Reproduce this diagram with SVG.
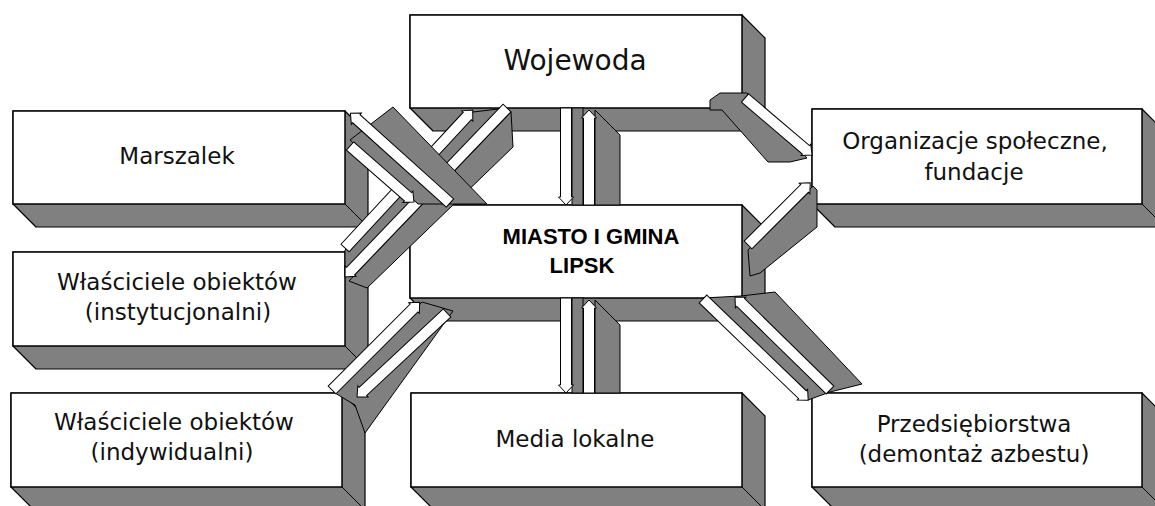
<svg xmlns="http://www.w3.org/2000/svg" width="1155" height="506" viewBox="0 0 1155 506">
<style>
.ext{fill:#808080;stroke:#000;stroke-width:1.2;stroke-linejoin:round}
.face{fill:#fff;stroke:#000;stroke-width:1.5}
.edge{stroke:#000;stroke-width:1;fill:none}
.lbl{font-family:"DejaVu Sans",sans-serif;font-size:23px;fill:#111;text-anchor:middle}
.big{font-size:28px}
.bold{font-family:"Liberation Sans",Arial,sans-serif;font-weight:bold;font-size:22px;fill:#000;text-anchor:middle}
.g{fill:#808080;stroke:#000;stroke-width:1}
.w{fill:#fff;stroke:#000;stroke-width:1}
</style>
<rect width="1155" height="506" fill="#fff"/>
<g id="node-wojewoda">
<polygon class="ext" points="410,15 742,15 765,38 765,131 433,131 410,108"/>
<rect class="face" x="410" y="15" width="332" height="93"/>
<line class="edge" x1="742" y1="108" x2="765" y2="131"/>
<text class="lbl big" x="575" y="70">Wojewoda</text>
</g>
<g id="node-marszalek">
<polygon class="ext" points="13,111 345,111 368,134 368,227 36,227 13,204"/>
<rect class="face" x="13" y="111" width="332" height="93"/>
<line class="edge" x1="345" y1="204" x2="368" y2="227"/>
<text class="lbl" x="177" y="164">Marszalek</text>
</g>
<g id="node-organizacje">
<polygon class="ext" points="812,109 1142,109 1165,132 1165,227 835,227 812,204"/>
<rect class="face" x="812" y="109" width="330" height="95"/>
<line class="edge" x1="1142" y1="204" x2="1165" y2="227"/>
<text class="lbl" x="975" y="149">Organizacje społeczne,</text>
<text class="lbl" x="974" y="180">fundacje</text>
</g>
<g id="node-miasto">
<polygon class="ext" points="410,205 742,205 765,228 765,321 433,321 410,298"/>
<rect class="face" x="410" y="205" width="332" height="93"/>
<line class="edge" x1="742" y1="298" x2="765" y2="321"/>
<text class="bold" x="591" y="244">MIASTO I GMINA</text>
<text class="bold" x="582" y="273">LIPSK</text>
</g>
<g id="node-instytucjonalni">
<polygon class="ext" points="13,252 345,252 368,275 368,369 36,369 13,346"/>
<rect class="face" x="13" y="252" width="332" height="94"/>
<line class="edge" x1="345" y1="346" x2="368" y2="369"/>
<text class="lbl" x="177" y="290">Właściciele obiektów</text>
<text class="lbl" x="178" y="320">(instytucjonalni)</text>
</g>
<g id="node-indywidualni">
<polygon class="ext" points="11,393 342,393 365,416 365,510 34,510 11,487"/>
<rect class="face" x="11" y="393" width="331" height="94"/>
<line class="edge" x1="342" y1="487" x2="365" y2="510"/>
<text class="lbl" x="174" y="430">Właściciele obiektów</text>
<text class="lbl" x="172" y="460">(indywidualni)</text>
</g>
<g id="node-media">
<polygon class="ext" points="411,393 742,393 765,416 765,510 434,510 411,487"/>
<rect class="face" x="411" y="393" width="331" height="94"/>
<line class="edge" x1="742" y1="487" x2="765" y2="510"/>
<text class="lbl" x="575" y="447">Media lokalne</text>
</g>
<g id="node-przedsiebiorstwa">
<polygon class="ext" points="812,393 1142,393 1165,416 1165,510 835,510 812,487"/>
<rect class="face" x="812" y="393" width="330" height="94"/>
<line class="edge" x1="1142" y1="487" x2="1165" y2="510"/>
<text class="lbl" x="974" y="432">Przedsiębiorstwa</text>
<text class="lbl" x="974" y="462">(demontaż azbestu)</text>
</g>
<g id="connectors">
<rect class="g" x="572" y="108" width="11" height="97"/>
<polygon class="g" points="595,110 620,135 620,205 595,205"/>
<path class="w" transform="translate(566,108) rotate(90)" d="M0,-5.5 H89 V-7.5 L97,0 L89,7.5 V5.5 H0 Z"/>
<path class="w" transform="translate(589,205) rotate(-90)" d="M0,-5.5 H87 V-7.5 L95,0 L87,7.5 V5.5 H0 Z"/>
<rect class="g" x="572" y="298" width="11" height="95"/>
<polygon class="g" points="595,300 620,325 620,393 595,393"/>
<path class="w" transform="translate(566,298) rotate(90)" d="M0,-5.5 H87 V-7.5 L95,0 L87,7.5 V5.5 H0 Z"/>
<path class="w" transform="translate(589,393) rotate(-90)" d="M0,-5.5 H85 V-7.5 L93,0 L85,7.5 V5.5 H0 Z"/>
<polygon class="g" points="345,250 473,112 507,108 345,277"/>
<polygon class="g" points="349,281 511,112 513,147 367,288"/>
<path class="w" transform="translate(345,248) rotate(-47.2)" d="M0,-5.5 H180 V-7.5 L188,0 L180,7.5 V5.5 H0 Z"/>
<path class="w" transform="translate(507,108) rotate(133.8)" d="M0,-5.5 H226 V-7.5 L234,0 L226,7.5 V5.5 H0 Z"/>
<polygon class="g" points="350,140 393,107 487,204 418,204"/>
<path class="w" transform="translate(450,203) rotate(222)" d="M0,-5.5 H126 V-7.5 L134,0 L126,7.5 V5.5 H0 Z"/>
<path class="w" transform="translate(350,146) rotate(41.2)" d="M0,-5.5 H77 V-7.5 L85,0 L77,7.5 V5.5 H0 Z"/>
<polygon class="g" points="335,393 422,302 453,311 365,433 355,405"/>
<path class="w" transform="translate(332,390) rotate(-45)" d="M0,-5.5 H116 V-7.5 L124,0 L116,7.5 V5.5 H0 Z"/>
<path class="w" transform="translate(447,313) rotate(137)" d="M0,-5.5 H115 V-7.5 L123,0 L115,7.5 V5.5 H0 Z"/>
<polygon class="g" points="703,298 741,296 775,292 862,384 830,392 808,400"/>
<path class="w" transform="translate(703,299) rotate(43.9)" d="M0,-5.5 H138 V-7.5 L146,0 L138,7.5 V5.5 H0 Z"/>
<path class="w" transform="translate(830,390) rotate(224.4)" d="M0,-5.5 H125 V-7.5 L133,0 L125,7.5 V5.5 H0 Z"/>
<polygon class="g" points="710,100 720,93 747,93 807,158 790,162 768,162 722,110 710,110"/>
<path class="w" transform="translate(745,98) rotate(40.4)" d="M0,-5.5 H80 V-7.5 L88,0 L80,7.5 V5.5 H0 Z"/>
<polygon class="g" points="748,250 813,186 817,190 817,227 760,273 750,276"/>
<path class="w" transform="translate(748,245) rotate(-45)" d="M0,-5.5 H80 V-7.5 L88,0 L80,7.5 V5.5 H0 Z"/>
</g>
</svg>
